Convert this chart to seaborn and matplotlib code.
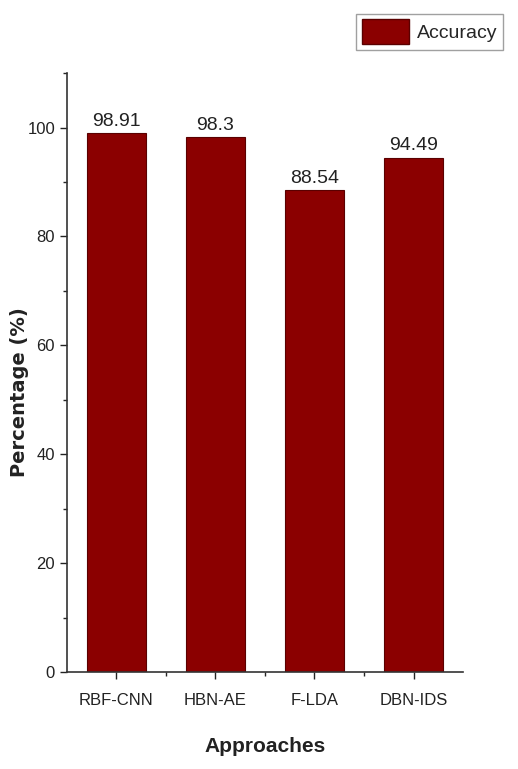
import matplotlib
matplotlib.use("Agg")
import matplotlib.pyplot as plt
import matplotlib.ticker as mticker
from matplotlib.patches import Patch
import pandas as pd
import seaborn as sns

approaches = ["RBF-CNN", "HBN-AE", "F-LDA", "DBN-IDS"]
accuracy = [98.91, 98.3, 88.54, 94.49]
value_labels = ["98.91", "98.3", "88.54", "94.49"]

sns.set_style("ticks")
plt.rcParams["font.family"] = ["Liberation Sans", "DejaVu Sans"]

df = pd.DataFrame({"approach": approaches, "accuracy": accuracy})
bar_color = "#8b0000"

fig = plt.figure(figsize=(5.18, 7.69), dpi=100)
ax = fig.add_axes([0.129, 0.126, 0.765, 0.779])

sns.barplot(data=df, x="approach", y="accuracy", color=bar_color, width=0.6,
            edgecolor="#5a0000", linewidth=0.8, saturation=1, ax=ax)

for i, (v, lab) in enumerate(zip(accuracy, value_labels)):
    ax.text(i, v + 0.6, lab, ha="center", va="bottom", fontsize=14, color="#222222")

ax.set_xlim(-0.5, 3.5)
ax.set_ylim(0, 110)
ax.yaxis.set_major_locator(mticker.MultipleLocator(20))
ax.yaxis.set_minor_locator(mticker.MultipleLocator(10))
ax.xaxis.set_minor_locator(mticker.FixedLocator([0.5, 1.5, 2.5]))
ax.tick_params(axis="both", which="major", direction="out", length=5, width=1,
               labelsize=12, colors="#222222")
ax.tick_params(axis="x", which="major", pad=10)
ax.tick_params(axis="both", which="minor", direction="out", length=3, width=1)

for side in ["top", "right"]:
    ax.spines[side].set_visible(False)
for side in ["left", "bottom"]:
    ax.spines[side].set_color("#333333")
    ax.spines[side].set_linewidth(1.2)

ax.set_xlabel("Approaches", fontsize=15, fontweight="bold", color="#222222")
ax.xaxis.set_label_coords(0.5, -0.108)
ax.set_ylabel("Percentage (%)", fontsize=14, fontweight="bold", color="#222222",
              family=["DejaVu Sans"])
ax.yaxis.set_label_coords(-0.095, 0.467)

handle = Patch(facecolor=bar_color, edgecolor="#5a0000")
fig.legend([handle], ["Accuracy"], loc="upper right", bbox_to_anchor=(0.99, 0.995),
           fontsize=14, frameon=True, fancybox=False, edgecolor="#888888",
           handlelength=2.4, handleheight=1.6, borderpad=0.3, handletextpad=0.4)

fig.savefig("out.png", dpi=100)
plt.close(fig)
